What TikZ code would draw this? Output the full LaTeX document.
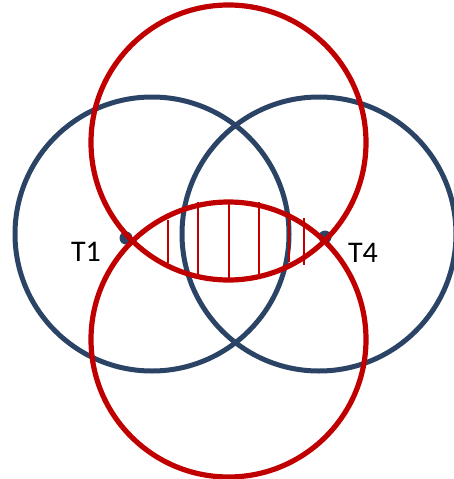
\documentclass[tikz,border=0pt]{standalone}
\usepackage{fontspec}
\setmainfont{Carlito}
\definecolor{ringblue}{HTML}{2B4466}
\definecolor{ringred}{HTML}{C00000}
\tikzset{
  bluering/.style={draw=ringblue, line width=5pt},
  redring/.style={draw=ringred, line width=5.2pt},
  hatchline/.style={draw=ringred, line width=2pt},
  pointdot/.style={circle, fill=ringblue, inner sep=0pt, minimum size=13pt},
  tlabel/.style={font=\fontsize{30}{30}\selectfont, inner sep=0pt}
}
\begin{document}
\begin{tikzpicture}[x=1pt,y=-1pt]
\useasboundingbox (0,0) rectangle (453,479);
% points
\node[pointdot] (t1dot) at (126,238) {};
\node[pointdot] (t4dot) at (325,237) {};
% blue circles
\draw[bluering] (152,234) circle[radius=137pt];
\draw[bluering] (319,234) circle[radius=137pt];
% hatching
\coordinate (h1a) at (167.5,220); \coordinate (h1b) at (167.5,263);
\coordinate (h2a) at (198.3,202); \coordinate (h2b) at (198.3,279);
\coordinate (h3a) at (228.5,202); \coordinate (h3b) at (228.5,278);
\coordinate (h4a) at (258.5,202); \coordinate (h4b) at (258.5,279);
\coordinate (h5a) at (289,219); \coordinate (h5b) at (289,262);
\coordinate (h6a) at (304,218); \coordinate (h6b) at (304,265);
\draw[hatchline] (h1a) -- (h1b);
\draw[hatchline] (h2a) -- (h2b);
\draw[hatchline] (h3a) -- (h3b);
\draw[hatchline] (h4a) -- (h4b);
\draw[hatchline] (h5a) -- (h5b);
\draw[hatchline] (h6a) -- (h6b);
% red circles
\draw[redring] (228.5,142.5) circle[radius=137.5pt];
\draw[redring] (228.5,339.5) circle[radius=137.5pt];
% labels
\node[tlabel] (t1) at (86,252) {T1};
\node[tlabel] (t4) at (363,253) {T4};
\end{tikzpicture}
\end{document}
